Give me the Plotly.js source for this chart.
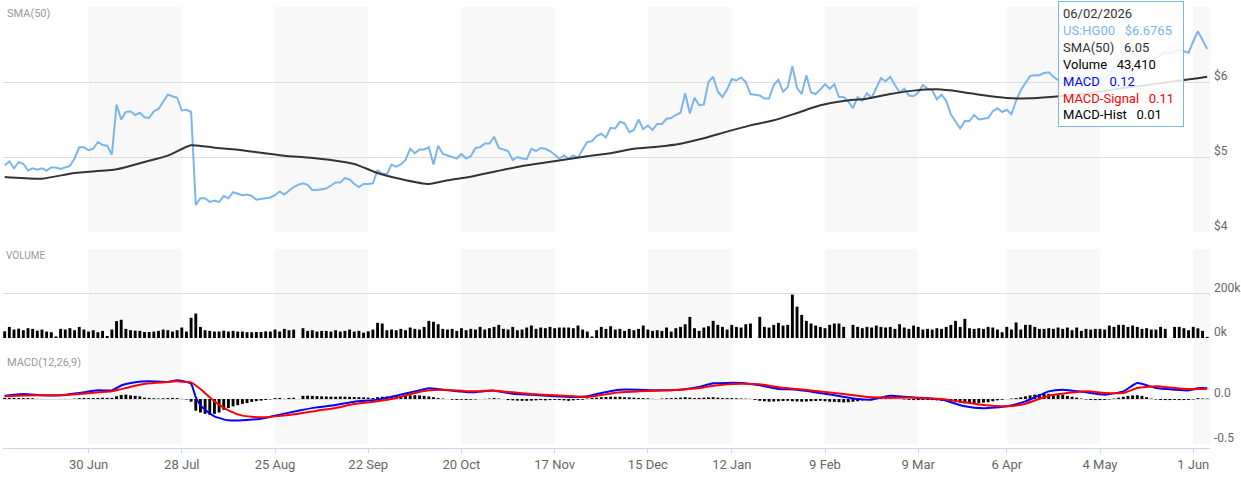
<!DOCTYPE html>
<html>
<head>
<meta charset="utf-8">
<script src="https://cdn.plot.ly/plotly-3.0.1.min.js"></script>
<style>
  html, body { margin: 0; padding: 0; background: #ffffff; }
  #chart { width: 1241px; height: 478px; }
</style>
</head>
<body>
<div id="chart"></div>
<script>
// ---------- DATA ----------
const symbol = 'US:HG00';
const firstDay = '2025-06-04';
const lastDay = '2026-06-04';
const closedDays = ['2025-12-25', '2026-01-01', '2026-04-03'];

const tickDates = ['2025-06-30', '2025-07-28', '2025-08-25', '2025-09-22', '2025-10-20', '2025-11-17',
  '2025-12-15', '2026-01-12', '2026-02-09', '2026-03-09', '2026-04-06', '2026-05-04', '2026-06-01'];
const tickLabels = ['30 Jun', '28 Jul', '25 Aug', '22 Sep', '20 Oct', '17 Nov',
  '15 Dec', '12 Jan', '9 Feb', '9 Mar', '6 Apr', '4 May', '1 Jun'];

// daily close (one per trading day)
const closePrice = [
  4.89, 4.94, 4.85, 4.93, 4.91, 4.82, 4.85, 4.83, 4.85, 4.82,
  4.86, 4.86, 4.84, 4.86, 4.88, 4.98, 5.13, 5.13, 5.09, 5.11,
  5.20, 5.16, 5.15, 5.03, 5.70, 5.50, 5.60, 5.61, 5.56, 5.59,
  5.53, 5.52, 5.61, 5.64, 5.73, 5.83, 5.81, 5.79, 5.62, 5.63,
  5.60, 4.36, 4.45, 4.45, 4.40, 4.42, 4.40, 4.48, 4.45, 4.53,
  4.51, 4.49, 4.50, 4.48, 4.43, 4.44, 4.45, 4.46, 4.49, 4.54,
  4.50, 4.55, 4.60, 4.63, 4.65, 4.63, 4.56, 4.56, 4.57, 4.58,
  4.62, 4.66, 4.66, 4.72, 4.70, 4.64, 4.60, 4.64, 4.64, 4.65,
  4.82, 4.78, 4.77, 4.90, 4.87, 4.90, 4.96, 5.11, 5.05, 5.10,
  5.10, 5.13, 4.90, 5.15, 5.04, 5.02, 5.01, 4.98, 5.04, 4.98,
  5.01, 5.12, 5.13, 5.18, 5.18, 5.27, 5.12, 5.10, 5.08, 4.96,
  5.00, 4.98, 4.97, 5.11, 5.08, 5.12, 5.11, 5.08, 5.03, 4.98,
  5.02, 4.98, 5.02, 4.99, 5.10, 5.20, 5.21, 5.28, 5.31, 5.26,
  5.39, 5.38, 5.47, 5.45, 5.33, 5.36, 5.50, 5.37, 5.42, 5.36,
  5.44, 5.44, 5.51, 5.52, 5.56, 5.59, 5.85, 5.58, 5.79, 5.69,
  5.70, 6.00, 6.07, 5.87, 5.80, 5.90, 6.04, 6.02, 6.06, 6.00,
  5.84, 5.83, 5.82, 5.78, 5.78, 5.96, 6.03, 5.87, 5.93, 6.21,
  5.92, 5.84, 6.09, 5.86, 5.84, 5.90, 5.97, 5.91, 5.97, 5.80,
  5.80, 5.74, 5.65, 5.80, 5.75, 5.85, 5.79, 5.92, 6.05, 6.01,
  6.07, 5.96, 5.86, 5.91, 5.82, 5.81, 5.86, 5.96, 5.91, 5.89,
  5.77, 5.83, 5.75, 5.57, 5.47, 5.38, 5.48, 5.48, 5.56, 5.50,
  5.51, 5.52, 5.61, 5.65, 5.60, 5.63, 5.57, 5.75, 5.89, 5.99,
  6.08, 6.09, 6.09, 6.12, 6.13, 6.07, 6.02, 5.98, 6.03, 6.08,
  6.10, 6.06, 6.01, 5.98, 6.03, 6.05, 6.02, 6.10, 6.20, 6.28,
  6.36, 6.42, 6.38, 6.34, 6.30, 6.33, 6.28, 6.32, 6.36, 6.40,
  6.38, 6.41, 6.43, 6.41, 6.39, 6.54, 6.6765, 6.56, 6.44
];

// daily volume (contracts)
const volume = [
  30000, 50000, 38000, 42000, 35000, 44000, 41000, 33000, 38000, 29000,
  26000, 7000, 41000, 38000, 44000, 35000, 50000, 38000, 29000, 35000,
  26000, 32000, 9000, 38000, 76000, 82000, 41000, 35000, 33000, 32000,
  27000, 27000, 29000, 32000, 38000, 35000, 29000, 35000, 47000, 29000,
  91000, 110000, 50000, 35000, 32000, 29000, 29000, 33000, 29000, 32000,
  29000, 29000, 26000, 26000, 27000, 27000, 30000, 29000, 38000, 29000,
  41000, 35000, 38000, 0, 44000, 32000, 35000, 29000, 32000, 32000,
  29000, 35000, 29000, 32000, 38000, 29000, 32000, 24000, 30000, 38000,
  68000, 65000, 35000, 38000, 35000, 41000, 35000, 47000, 41000, 38000,
  50000, 77000, 73000, 62000, 41000, 38000, 41000, 32000, 44000, 35000,
  41000, 38000, 50000, 38000, 44000, 50000, 59000, 41000, 38000, 50000,
  35000, 38000, 47000, 56000, 41000, 47000, 44000, 50000, 44000, 47000,
  47000, 47000, 44000, 56000, 38000, 29000, 7000, 35000, 50000, 41000,
  53000, 38000, 41000, 32000, 41000, 35000, 41000, 56000, 38000, 32000,
  35000, 32000, 47000, 29000, 44000, 50000, 62000, 95000, 44000, 32000,
  47000, 53000, 77000, 59000, 50000, 38000, 59000, 50000, 47000, 62000,
  65000, 0, 95000, 50000, 47000, 59000, 68000, 56000, 59000, 195000,
  141000, 104000, 77000, 65000, 56000, 50000, 44000, 59000, 65000, 65000,
  50000, 0, 59000, 50000, 44000, 50000, 47000, 56000, 50000, 47000,
  50000, 41000, 62000, 47000, 41000, 56000, 50000, 38000, 41000, 38000,
  44000, 41000, 50000, 59000, 77000, 50000, 86000, 44000, 41000, 44000,
  41000, 50000, 47000, 38000, 26000, 50000, 38000, 70000, 38000, 59000,
  59000, 50000, 41000, 41000, 44000, 41000, 47000, 41000, 47000, 35000,
  47000, 32000, 41000, 38000, 41000, 41000, 38000, 56000, 50000, 59000,
  59000, 50000, 56000, 50000, 41000, 44000, 38000, 38000, 50000, 41000,
  0, 50000, 50000, 44000, 35000, 50000, 43410, 32000, 5000
];

// MACD histogram (one per trading day)
const macdHist = [
  0.012, 0.012, 0.012, 0.01, 0.01, 0.01, 0.008, 0.002, 0.001, 0,
  0, 0, 0.001, 0.002, 0.001, 0.004, 0.01, 0.012, 0.01, 0.01,
  0.012, 0.014, 0.012, 0.012, 0.03, 0.045, 0.048, 0.04, 0.035, 0.03,
  0.015, 0.012, 0.008, 0.005, 0.008, 0.01, 0.012, 0.01, 0.002, -0.005,
  -0.03, -0.13, -0.15, -0.165, -0.175, -0.165, -0.15, -0.12, -0.1, -0.082,
  -0.068, -0.054, -0.045, -0.032, -0.024, -0.018, -0.01, -0.004, 0.01, 0.012,
  0.002, 0.012, 0.014, 0, 0.035, 0.037, 0.035, 0.032, 0.03, 0.028,
  0.026, 0.025, 0.028, 0.026, 0.024, 0.022, 0.02, 0.018, 0.015, 0.012,
  0.02, 0.025, 0.028, 0.03, 0.032, 0.035, 0.038, 0.04, 0.042, 0.04,
  0.035, 0.028, 0.02, 0.01, 0.005, 0, -0.008, -0.01, -0.008, -0.01,
  -0.008, -0.005, 0, 0.002, 0.005, 0.01, 0.005, 0, -0.012, -0.015,
  -0.018, -0.02, -0.02, -0.018, -0.015, -0.012, -0.015, -0.012, -0.01, -0.012,
  -0.015, -0.02, -0.015, -0.01, -0.008, 0.005, 0.01, 0.015, 0.02, 0.022,
  0.025, 0.025, 0.025, 0.02, 0.018, 0.015, 0.012, 0.01, 0.008, 0.002,
  0, 0.005, 0.008, 0.01, 0.012, 0.015, 0.02, 0.015, 0.01, 0.012,
  0.015, 0.018, 0.02, 0.015, 0.012, 0.01, 0.01, 0.008, 0.006, 0.004,
  0.002, -0.01, -0.02, -0.025, -0.03, -0.028, -0.025, -0.022, -0.02, -0.025,
  -0.028, -0.03, -0.028, -0.025, -0.022, -0.02, -0.025, -0.03, -0.032, -0.035,
  -0.038, -0.035, -0.03, -0.025, -0.015, -0.008, 0.005, 0.01, 0.012, 0.01,
  0.008, 0.002, 0, -0.005, -0.01, -0.012, -0.012, -0.01, -0.01, -0.012,
  -0.015, -0.02, -0.025, -0.03, -0.035, -0.042, -0.048, -0.05, -0.048, -0.045,
  -0.04, -0.035, -0.025, -0.015, -0.008, 0, 0.005, 0.01, 0.02, 0.03,
  0.04, 0.048, 0.055, 0.06, 0.058, 0.055, 0.05, 0.045, 0.035, 0.025,
  0.015, 0.005, -0.005, -0.01, -0.012, -0.012, -0.01, -0.005, 0.005, 0.015,
  0.025, 0.035, 0.04, 0.042, 0.035, 0.02, 0.005, -0.005, -0.01, -0.012,
  -0.012, -0.01, -0.012, -0.012, -0.01, -0.005, 0.01, 0.005, 0.005
];

// SMA(50) read at sample dates
const smaDates = ['2025-06-04', '2025-06-16', '2025-06-25', '2025-07-08', '2025-07-16', '2025-07-23',
  '2025-07-30', '2025-08-06', '2025-08-13', '2025-08-20', '2025-08-27', '2025-09-03', '2025-09-10',
  '2025-09-17', '2025-09-24', '2025-10-01', '2025-10-09', '2025-10-15', '2025-10-22', '2025-10-29',
  '2025-11-05', '2025-11-12', '2025-11-19', '2025-11-26', '2025-12-03', '2025-12-10', '2025-12-17',
  '2025-12-24', '2026-01-02', '2026-01-09', '2026-01-16', '2026-01-23', '2026-01-30', '2026-02-06',
  '2026-02-13', '2026-02-20', '2026-02-27', '2026-03-06', '2026-03-13', '2026-03-20', '2026-03-27',
  '2026-04-06', '2026-04-13', '2026-04-20', '2026-04-27', '2026-05-04', '2026-05-11', '2026-05-18',
  '2026-05-26', '2026-06-02', '2026-06-04'];
const smaValues = [4.733, 4.711, 4.787, 4.836, 4.933, 5.018,
  5.156, 5.124, 5.098, 5.058, 5.018, 4.993, 4.96,
  4.907, 4.787, 4.707, 4.64, 4.689, 4.738, 4.804,
  4.867, 4.916, 4.964, 5.009, 5.05, 5.111, 5.138,
  5.178, 5.249, 5.338, 5.422, 5.489, 5.587, 5.689,
  5.747, 5.778, 5.84, 5.885, 5.902, 5.871, 5.822,
  5.787, 5.782, 5.804, 5.83, 5.87, 5.92, 5.96,
  6.01, 6.05, 6.07];

// MACD(12,26,9) lines read at sample dates
const macdDates = ['2025-06-04', '2025-06-10', '2025-06-16', '2025-06-20', '2025-06-26', '2025-07-02',
  '2025-07-07', '2025-07-09', '2025-07-14', '2025-07-17', '2025-07-23', '2025-07-25', '2025-07-29',
  '2025-07-30', '2025-07-31', '2025-08-01', '2025-08-04', '2025-08-06', '2025-08-11', '2025-08-14',
  '2025-08-20', '2025-08-25', '2025-09-01', '2025-09-05', '2025-09-11', '2025-09-17', '2025-09-24',
  '2025-09-30', '2025-10-06', '2025-10-09', '2025-10-14', '2025-10-22', '2025-10-29', '2025-11-04',
  '2025-11-10', '2025-11-17', '2025-11-21', '2025-11-26', '2025-12-01', '2025-12-05', '2025-12-11',
  '2025-12-17', '2025-12-24', '2025-12-31', '2026-01-06', '2026-01-14', '2026-01-20', '2026-01-26',
  '2026-01-30', '2026-02-09', '2026-02-18', '2026-02-23', '2026-02-27', '2026-03-09', '2026-03-16',
  '2026-03-23', '2026-03-27', '2026-04-06', '2026-04-10', '2026-04-17', '2026-04-22', '2026-04-29',
  '2026-05-05', '2026-05-11', '2026-05-14', '2026-05-20', '2026-05-26', '2026-05-29', '2026-06-02',
  '2026-06-04'];
const macdLine = [0.037, 0.056, 0.042, 0.041, 0.067, 0.096,
  0.096, 0.15, 0.185, 0.196, 0.19, 0.207, 0.19,
  0.17, 0.02, -0.07, -0.119, -0.193, -0.237, -0.237,
  -0.219, -0.185, -0.13, -0.093, -0.067, -0.03, -0.007,
  0.037, 0.085, 0.119, 0.104, 0.074, 0.093, 0.059,
  0.048, 0.03, 0.022, 0.03, 0.067, 0.104, 0.104,
  0.096, 0.104, 0.133, 0.174, 0.178, 0.152, 0.111,
  0.104, 0.059, 0.0, -0.007, 0.037, 0.011, -0.007,
  -0.081, -0.104, -0.081, -0.026, 0.085, 0.104, 0.074,
  0.048, 0.085, 0.178, 0.122, 0.104, 0.096, 0.12,
  0.12];
const signalLine = [0.03, 0.04, 0.042, 0.041, 0.056, 0.074,
  0.085, 0.11, 0.148, 0.174, 0.19, 0.196, 0.188,
  0.185, 0.15, 0.11, 0.065, -0.026, -0.126, -0.185,
  -0.204, -0.193, -0.163, -0.13, -0.1, -0.056, -0.026,
  0.011, 0.067, 0.096, 0.104, 0.085, 0.093, 0.074,
  0.056, 0.041, 0.03, 0.022, 0.044, 0.074, 0.085,
  0.093, 0.104, 0.122, 0.148, 0.17, 0.163, 0.13,
  0.111, 0.078, 0.037, 0.019, 0.015, 0.015, 0.0,
  -0.037, -0.067, -0.081, -0.052, 0.037, 0.059, 0.085,
  0.067, 0.067, 0.122, 0.141, 0.122, 0.111, 0.11,
  0.115];

const tooltipDate = '2026-06-02';

// ---------- TRADING CALENDAR ----------
function tradingDays(from, to, skip) {
  const out = [];
  const d = new Date(from + 'T00:00:00Z');
  const end = new Date(to + 'T00:00:00Z');
  while (d <= end) {
    const wd = d.getUTCDay();
    const s = d.toISOString().slice(0, 10);
    if (wd !== 0 && wd !== 6 && skip.indexOf(s) < 0) out.push(s);
    d.setUTCDate(d.getUTCDate() + 1);
  }
  return out;
}
const days = tradingDays(firstDay, lastDay, closedDays);

// ---------- LAYOUT HELPERS ----------
const FONT = 'Roboto, "Open Sans", "Liberation Sans", sans-serif';
const xMin = -0.36, xMax = days.length - 0.4;

const shapes = [];
for (let k = 0; k < tickDates.length; k += 2) {
  const x0 = tickDates[k];
  const x1 = (k + 1 < tickDates.length) ? tickDates[k + 1] : xMax;
  ['y domain', 'y2 domain', 'y3 domain'].forEach(function (yr) {
    shapes.push({
      type: 'rect', layer: 'below', xref: 'x', yref: yr,
      x0: x0, x1: x1, y0: 0, y1: 1,
      fillcolor: '#f8f8f8', line: { width: 0 }
    });
  });
}

// tooltip built from the data
const ti = days.indexOf(tooltipDate);
const si = smaDates.indexOf(tooltipDate);
const mi = macdDates.indexOf(tooltipDate);
const parts = tooltipDate.split('-');
const sp = '&nbsp;&nbsp;&nbsp;';
const tipText =
  '<span style="color:#333333">' + parts[1] + '/' + parts[2] + '/' + parts[0] + '</span><br>' +
  '<span style="color:#7cb5ec">' + symbol + sp + '$' + closePrice[ti].toFixed(4) + '</span><br>' +
  '<span style="color:#333333">SMA(50)' + sp + smaValues[si].toFixed(2) + '</span><br>' +
  '<span style="color:#000000">Volume' + sp + volume[ti].toLocaleString('en-US') + '</span><br>' +
  '<span style="color:#0000ff">MACD' + sp + macdLine[mi].toFixed(2) + '</span><br>' +
  '<span style="color:#ff0000">MACD-Signal' + sp + signalLine[mi].toFixed(2) + '</span><br>' +
  '<span style="color:#000000">MACD-Hist' + sp + macdHist[ti].toFixed(2) + '</span>';

const traces = [
  { type: 'scatter', mode: 'lines', x: days, y: closePrice, xaxis: 'x', yaxis: 'y',
    line: { color: '#7cb5ec', width: 2 }, hoverinfo: 'skip' },
  { type: 'scatter', mode: 'lines', x: smaDates, y: smaValues, xaxis: 'x', yaxis: 'y',
    line: { color: '#333333', width: 2, shape: 'spline', smoothing: 0.6 }, hoverinfo: 'skip' },
  { type: 'bar', x: days, y: volume, xaxis: 'x', yaxis: 'y2',
    marker: { color: '#000000', line: { width: 0 } }, width: 0.62, hoverinfo: 'skip' },
  { type: 'bar', x: days, y: macdHist, xaxis: 'x', yaxis: 'y3',
    marker: { color: '#000000', line: { width: 0 } }, width: 0.62, hoverinfo: 'skip' },
  { type: 'scatter', mode: 'lines', x: macdDates, y: macdLine, xaxis: 'x', yaxis: 'y3',
    line: { color: '#0000ff', width: 2, shape: 'spline', smoothing: 0.5 }, hoverinfo: 'skip' },
  { type: 'scatter', mode: 'lines', x: macdDates, y: signalLine, xaxis: 'x', yaxis: 'y3',
    line: { color: '#ff0000', width: 2, shape: 'spline', smoothing: 0.5 }, hoverinfo: 'skip' }
];

const yCommon = {
  side: 'right', showline: false, ticks: '', fixedrange: true,
  gridcolor: '#dddddd', gridwidth: 1,
  tickfont: { family: FONT, size: 12, color: '#666666' },
  ticklabelshift: -6, ticklabelstandoff: 3
};

const layout = {
  width: 1241, height: 478,
  margin: { l: 3, r: 31, t: 7, b: 30 },
  paper_bgcolor: '#ffffff', plot_bgcolor: 'rgba(0,0,0,0)',
  showlegend: false, barmode: 'overlay',
  font: { family: FONT, color: '#666666' },
  xaxis: {
    type: 'category', categoryorder: 'array', categoryarray: days,
    range: [xMin, xMax], anchor: 'free', position: 0,
    tickmode: 'array', tickvals: tickDates, ticktext: tickLabels,
    showgrid: false, showline: true, linecolor: '#ccd6eb', linewidth: 1,
    ticks: 'outside', ticklen: 4, tickcolor: '#ccd6eb',
    tickfont: { family: FONT, size: 13, color: '#666666' }, fixedrange: true
  },
  yaxis: Object.assign({}, yCommon, {
    domain: [0.4898, 1], range: [4, 7],
    tickmode: 'array', tickvals: [4, 5, 6, 7], ticktext: ['$4', '$5', '$6', ''],
    zeroline: false
  }),
  yaxis2: Object.assign({}, yCommon, {
    domain: [0.21315, 0.45125], range: [-71910, 400000],
    tickmode: 'array', tickvals: [0, 200000, 400000], ticktext: ['0k', '200k', ''],
    zeroline: true, zerolinecolor: 'rgba(0,0,0,0)', zerolinewidth: 1
  }),
  yaxis3: Object.assign({}, yCommon, {
    domain: [0.00907, 0.21315], range: [-0.5, 0.5],
    tickmode: 'array', tickvals: [-0.5, 0, 0.5], ticktext: ['-0.5', '0.0', ''],
    zeroline: false
  }),
  shapes: shapes,
  annotations: [
    { xref: 'paper', yref: 'paper', x: 0.0017, y: 0.9853, xanchor: 'left', yanchor: 'middle',
      text: 'SMA(50)', showarrow: false, font: { family: FONT, size: 11, color: '#999999' } },
    { xref: 'paper', yref: 'paper', x: 0.0008, y: 0.4354, xanchor: 'left', yanchor: 'middle',
      text: 'VOLUME', showarrow: false, font: { family: FONT, size: 10, color: '#999999' } },
    { xref: 'paper', yref: 'paper', x: 0.0017, y: 0.195, xanchor: 'left', yanchor: 'middle',
      text: 'MACD(12,26,9)', showarrow: false, font: { family: FONT, size: 11, color: '#999999' } },
    { xref: 'paper', yref: 'paper', x: 0.8741, y: 1.0136, xanchor: 'left', yanchor: 'top',
      text: tipText, showarrow: false, align: 'left', width: 116,
      bgcolor: 'rgba(255,255,255,0.85)', bordercolor: '#7cb5ec', borderwidth: 1, borderpad: 4,
      font: { family: FONT, size: 13, color: '#333333' } }
  ]
};

Plotly.newPlot('chart', traces, layout, { displayModeBar: false, staticPlot: true });
</script>
</body>
</html>
